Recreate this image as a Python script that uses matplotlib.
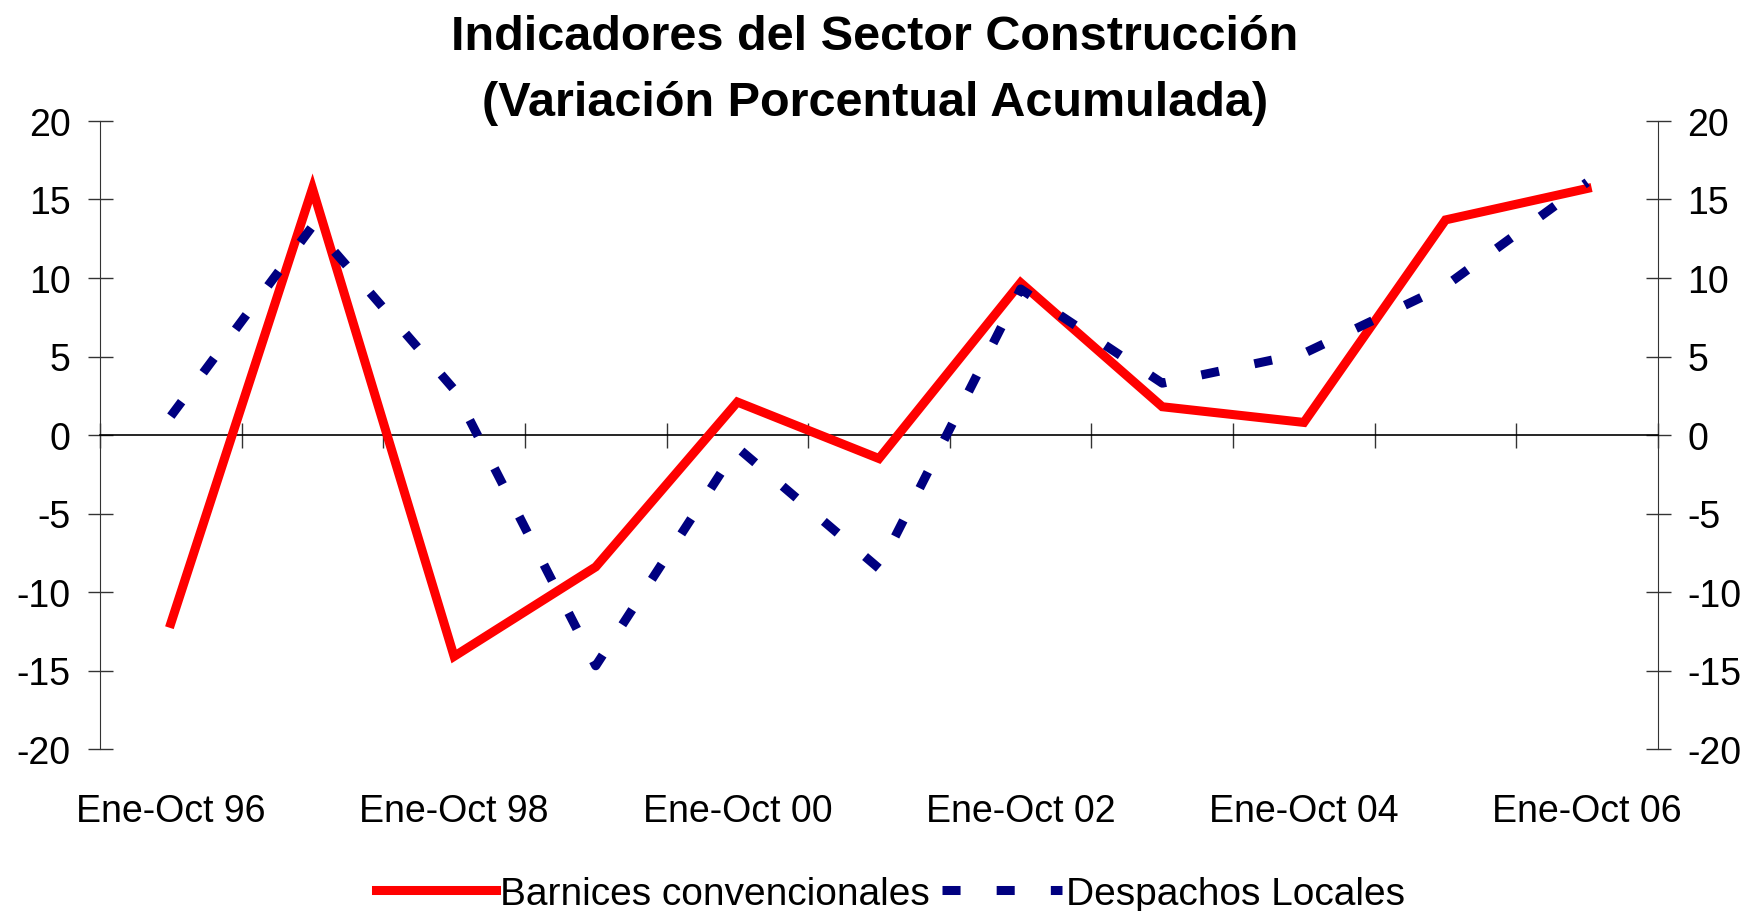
import matplotlib.pyplot as plt
import numpy as np

plt.rcParams['font.family'] = ['Liberation Sans', 'DejaVu Sans']
plt.rcParams['axes.unicode_minus'] = False

periodos = ['Ene-Oct 96', 'Ene-Oct 97', 'Ene-Oct 98', 'Ene-Oct 99', 'Ene-Oct 00',
            'Ene-Oct 01', 'Ene-Oct 02', 'Ene-Oct 03', 'Ene-Oct 04', 'Ene-Oct 05',
            'Ene-Oct 06']
barnices = [-12.0, 15.7, -14.1, -8.4, 2.1, -1.5, 9.7, 1.8, 0.8, 13.7, 15.7]
despachos = [1.2, 13.3, 2.9, -14.7, -0.8, -8.5, 9.3, 3.3, 5.2, 9.5, 16.1]
yticks = [-20, -15, -10, -5, 0, 5, 10, 15, 20]

x = np.arange(len(periodos))

fig = plt.figure(figsize=(17.6, 9.12), dpi=100)
ax = fig.add_axes((100 / 1760, 1 - 750 / 912, 1558 / 1760, 628 / 912))

ax.plot(x, barnices, color='#ff0000', lw=6.5, solid_joinstyle='miter',
        label='Barnices convencionales', zorder=3)
ax.plot(x, despachos, color='#000080', lw=6.5, dashes=(2.0, 4.0),
        label='Despachos Locales', zorder=4)

ax.set_xlim(-0.5, len(periodos) - 0.5)
ax.set_ylim(-20, 20)

# category axis crosses at zero, ticks between categories
ax.spines['top'].set_visible(False)
ax.spines['bottom'].set_position(('data', 0))
ax.spines['bottom'].set_linewidth(1.2)
ax.spines['left'].set_color('#333333')
ax.spines['right'].set_color('#333333')
ax.set_xticks(np.arange(len(periodos) + 1) - 0.5)
ax.tick_params(axis='x', direction='inout', length=18, width=1,
               labelbottom=False, color='#333333')

ax.set_yticks(yticks)
ax.set_yticklabels([str(v) for v in yticks])
ax.tick_params(axis='y', direction='inout', length=18, width=1,
               right=True, labelright=True, labelsize=27, pad=12,
               color='#333333')

sec = ax.secondary_xaxis('bottom')
sec.set_xticks(x[::2])
sec.set_xticklabels(periodos[::2])
sec.tick_params(length=0, labelsize=27, pad=32)
sec.spines['bottom'].set_visible(False)

fig.text(0.497, 1 - 37 / 912, 'Indicadores del Sector Construcción',
         ha='center', va='center', fontsize=35, fontweight='bold')
fig.text(0.497, 1 - 104 / 912, '(Variación Porcentual Acumulada)',
         ha='center', va='center', fontsize=35, fontweight='bold')

fig.legend(loc='center', bbox_to_anchor=(0.506, 1 - 895 / 912), ncol=2,
           frameon=False, fontsize=28, handlelength=3.1, handletextpad=0.1,
           columnspacing=0.3, borderaxespad=0)

fig.savefig('out.png', dpi=100)
